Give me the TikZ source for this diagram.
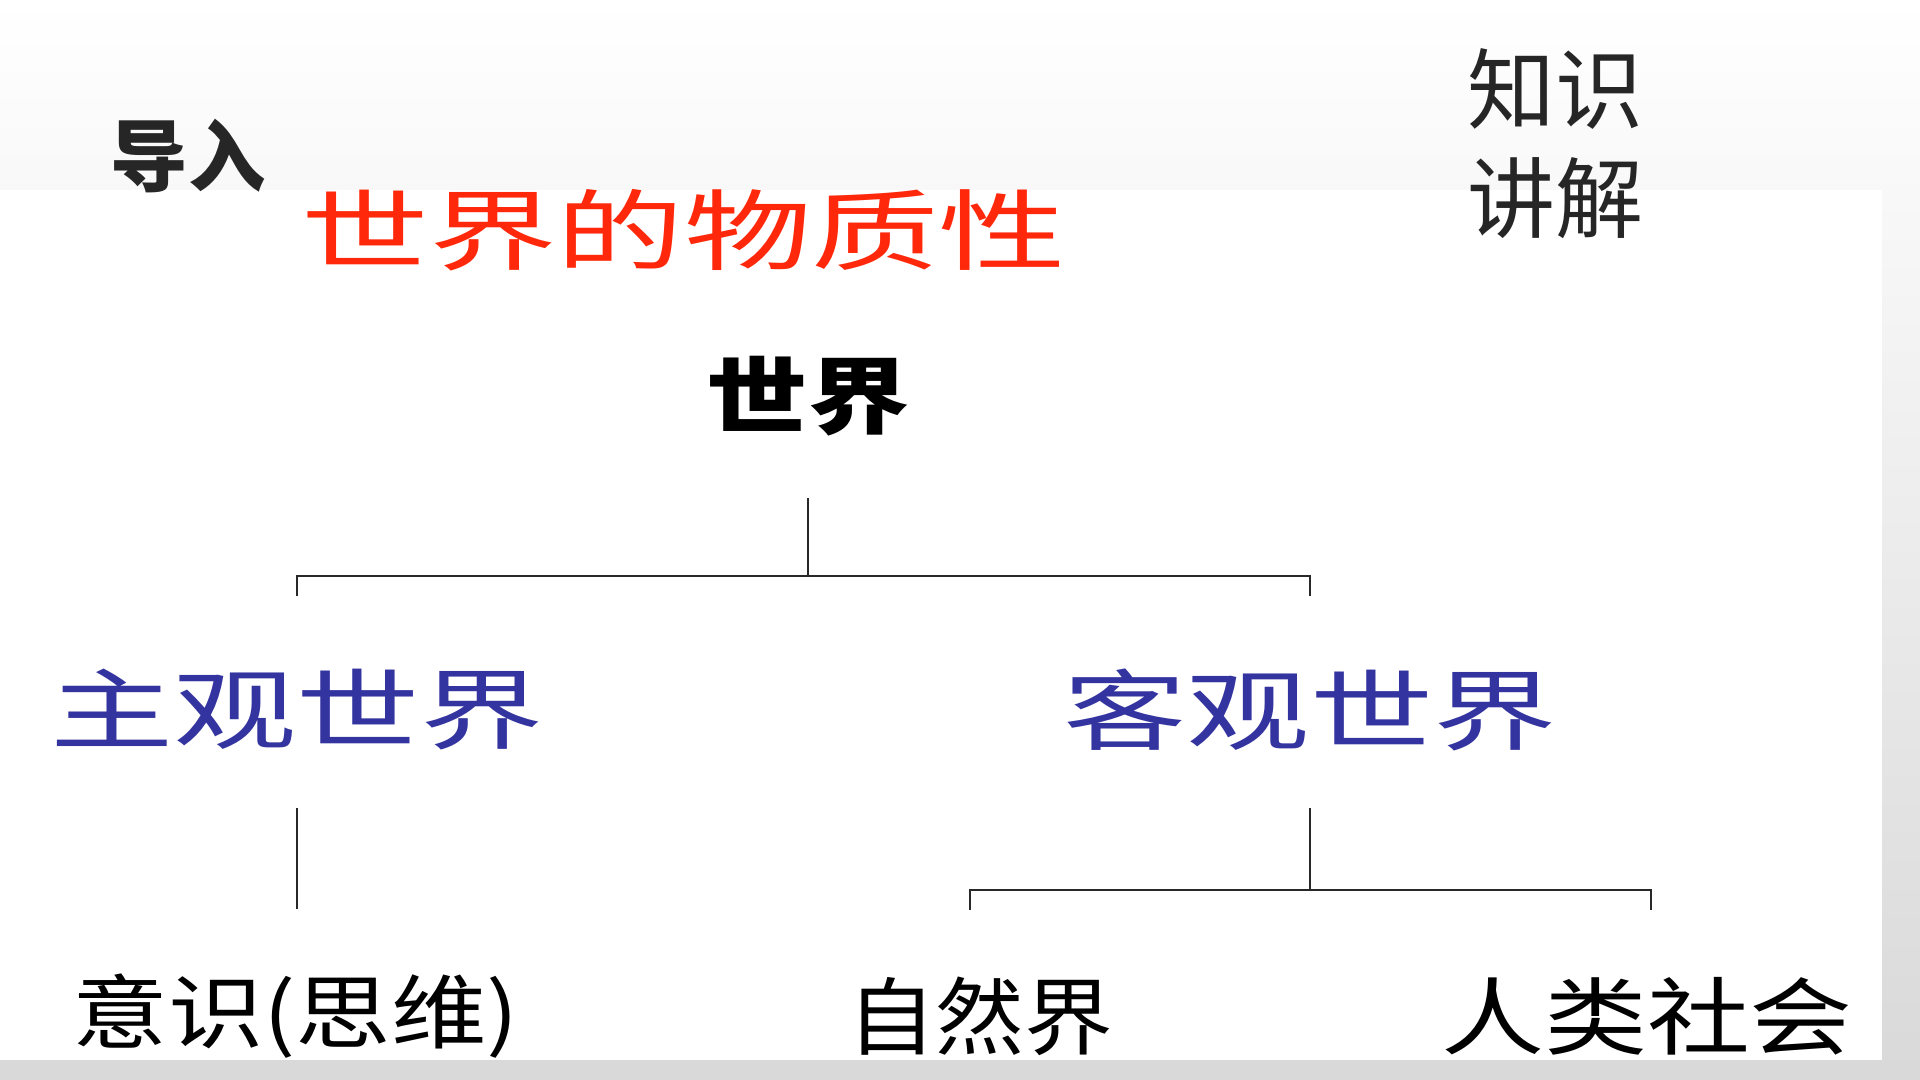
\documentclass[tikz,border=0pt]{standalone}
\usepackage{fontspec}
\newfontfamily\cjk{Noto Sans CJK SC}
\definecolor{titlered}{RGB}{255,40,10}
\definecolor{subblue}{RGB}{52,52,160}
\definecolor{linegray}{RGB}{40,40,40}
\begin{document}
\begin{tikzpicture}[x=0.01cm, y=-0.01cm, >=latex,
	lbl/.style={inner sep=0pt, font=\cjk},
	tree/.style={draw=linegray, line width=0.75pt}]
	% 1. 背景：页面渐变与白色图片区
	\useasboundingbox (0,0) rectangle (1920,1080);
	\shade[top color=white, bottom color=black!15] (0,0) rectangle (1920,1080);
	\fill[white] (0,190) rectangle (1882,1060);
	
	% 2. 标题文字
	\node[lbl, font=\cjk\bfseries\fontsize{22}{22}\selectfont, text=black!85] (intro) at (188,156) {导入};
	\node[lbl, font=\cjk\fontsize{25}{31}\selectfont, align=center, text=black!85] (lecture) at (1555,144) {知识\\讲解};
	\node[lbl, font=\cjk\fontsize{25}{25}\selectfont, text=titlered, xscale=1.45] (title) at (684,230) {世界的物质性};
	
	% 3. 树状结构各结点
	\node[lbl, font=\cjk\bfseries\fontsize{24}{24}\selectfont, xscale=1.2] (world) at (808,396) {世界};
	\node[lbl, font=\cjk\fontsize{25}{25}\selectfont, text=subblue, xscale=1.4] (subj) at (297,710) {主观世界};
	\node[lbl, font=\cjk\fontsize{25}{25}\selectfont, text=subblue, xscale=1.4] (obj) at (1310,710) {客观世界};
	\node[lbl, font=\cjk\fontsize{23}{23}\selectfont, xscale=1.18] (mind) at (296,1016) {意识(思维)};
	\node[lbl, font=\cjk\fontsize{24}{24}\selectfont, xscale=1.05] (nature) at (980,1016) {自然界};
	\node[lbl, font=\cjk\fontsize{24}{24}\selectfont, xscale=1.22] (society) at (1647,1016) {人类社会};
	
	% 4. 连线的转折点
	\coordinate (w1) at (world.south |- 0,498);
	\coordinate (w2) at (world.south |- 0,576);
	\coordinate (s1) at (subj.north |- 0,576);
	\coordinate (s0) at (subj.north |- 0,596);
	\coordinate (o1) at (obj.north |- 0,576);
	\coordinate (o0) at (obj.north |- 0,596);
	\coordinate (s2) at (subj.south |- 0,808);
	\coordinate (s3) at (subj.south |- 0,909);
	\coordinate (o2) at (obj.south |- 0,808);
	\coordinate (o3) at (obj.south |- 0,890);
	\coordinate (n1) at (970,890);
	\coordinate (n0) at (970,910);
	\coordinate (h1) at (1651,890);
	\coordinate (h0) at (1651,910);
	
	% 5. 连线
	\draw[tree] (w1) -- (w2);
	\draw[tree] (s0) -- (s1) -- (o1) -- (o0);
	\draw[tree] (s2) -- (s3);
	\draw[tree] (o2) -- (o3);
	\draw[tree] (n0) -- (n1) -- (h1) -- (h0);
	
\end{tikzpicture}
\end{document}
